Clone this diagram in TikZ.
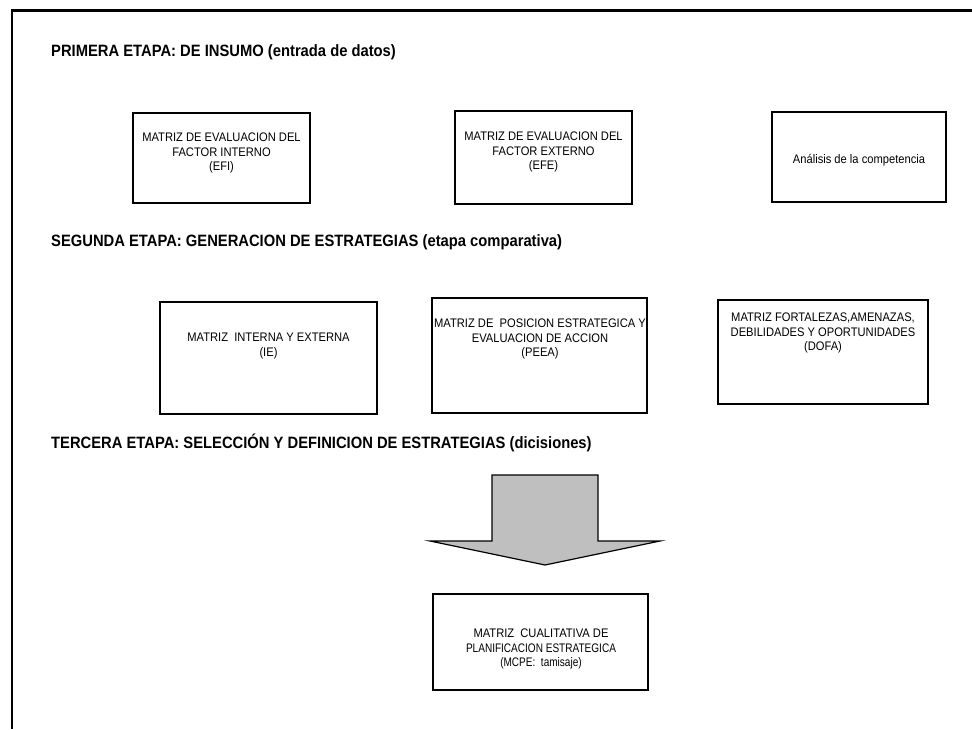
\documentclass[tikz,border=0pt]{standalone}
\usepackage{graphicx}
\usepackage{fontspec}
\setmainfont{Liberation Sans}[FakeStretch=0.9]
\begin{document}
\begin{tikzpicture}[x=1pt,y=-1pt,
  box/.style={draw=black,line width=1.4pt,inner sep=0pt},
  boxtext/.style={align=center,font=\fontsize{12.4}{14.6}\selectfont,inner sep=0pt},
  heading/.style={anchor=west,font=\bfseries\fontsize{16.4}{18}\selectfont,inner sep=0pt}]
\useasboundingbox (0,0) rectangle (972,729);
\draw[line width=2.6pt] (12,729) -- (12,10.5) -- (972,10.5);

\node[heading] (h1) at (51,52.5) {PRIMERA ETAPA: DE INSUMO (entrada de datos)};
\node[heading] (h2) at (51,242.5) {SEGUNDA ETAPA: GENERACION DE ESTRATEGIAS (etapa comparativa)};
\node[heading] (h3) at (51,442.5) {TERCERA ETAPA: SELECCI\'ON Y DEFINICION DE ESTRATEGIAS (dicisiones)};

% stage 1
\node[box,minimum width=177,minimum height=90] (efi) at (221.5,158) {};
\node[boxtext] (efit) at (221.5,153) {MATRIZ DE EVALUACION DEL\\FACTOR INTERNO\\(EFI)};
\node[box,minimum width=177,minimum height=93] (efe) at (543.5,157.5) {};
\node[boxtext] (efet) at (543.5,152) {MATRIZ DE EVALUACION DEL\\FACTOR EXTERNO\\(EFE)};
\node[box,minimum width=174,minimum height=90] (ana) at (859,157) {};
\node[boxtext] (anat) at (859,160) {An\'alisis de la competencia};

% stage 2
\node[box,minimum width=217,minimum height=112] (ie) at (268.5,358) {};
\node[boxtext] (iet) at (268.5,346) {MATRIZ\ \ INTERNA Y EXTERNA\\(IE)};
\node[box,minimum width=215,minimum height=115] (peea) at (539.5,355.5) {};
\node[boxtext] (peeat) at (540,339) {MATRIZ DE\ \ POSICION ESTRATEGICA Y\\EVALUACION DE ACCION\\(PEEA)};
\node[box,minimum width=210,minimum height=104] (dofa) at (823,352) {};
\node[boxtext] (dofat) at (823,333) {MATRIZ FORTALEZAS,AMENAZAS,\\DEBILIDADES Y OPORTUNIDADES\\(DOFA)};

% stage 3 arrow
\filldraw[fill=black!25,draw=black,line width=1.2pt,line join=miter]
  (492,475) -- (598,475) -- (598,541) -- (660,541) -- (545,565) -- (430,541) -- (492,541) -- cycle;

\node[box,minimum width=215,minimum height=96] (mcpe) at (540.5,642) {};
\node[boxtext] (mcpet) at (541,649) {MATRIZ\ \ CUALITATIVA DE\\\scalebox{0.9}[1]{PLANIFICACION ESTRATEGICA}\\\scalebox{0.9}[1]{(MCPE:\ \ tamisaje)}};
\end{tikzpicture}
\end{document}
